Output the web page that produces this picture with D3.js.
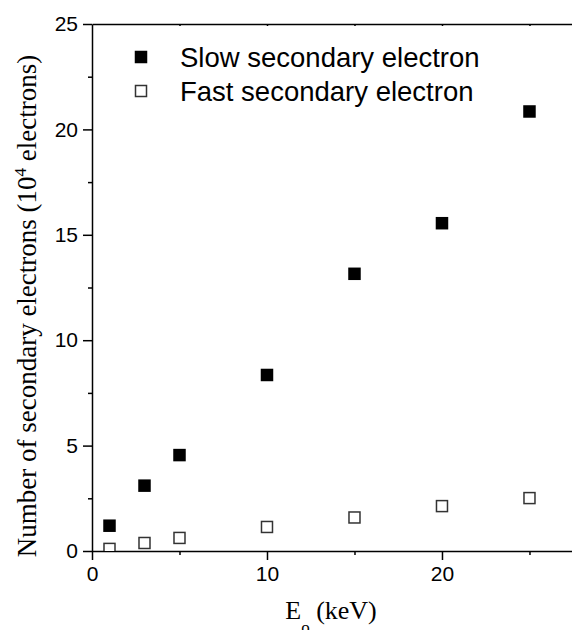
<!DOCTYPE html>
<html>
<head>
<meta charset="utf-8">
<script src="https://cdn.jsdelivr.net/npm/d3@7"></script>
<style>
  body { margin: 0; background: #fff; }
  .tick text { font-family: "Liberation Sans", Arial, sans-serif; font-size: 21px; fill: #000; }
  .axis path, .axis line { stroke: #000; stroke-width: 1.5px; }
</style>
</head>
<body>
<script>
/** Data */
const energies = [1, 3, 5, 10, 15, 20, 25];
const slowValues = [1.2, 3.1, 4.55, 8.35, 13.15, 15.55, 20.85];
const fastValues = [0.1, 0.38, 0.62, 1.14, 1.59, 2.13, 2.51];
const xMajorTicks = [0, 10, 20];
const xMinorTicks = [5, 15, 25];
const yMajorTicks = [0, 5, 10, 15, 20, 25];
const yMinorTicks = [2.5, 7.5, 12.5, 17.5, 22.5];
const seriesNames = ["Slow secondary electron", "Fast secondary electron"];

const width = 572;
const height = 630;
const plotLeft = 92, plotTop = 24, plotBottom = 551;

var svg = d3.select("body").append("svg")
    .attr("width", width)
    .attr("height", height);

var x_scale = d3.scaleLinear().domain([0, 27.43]).range([plotLeft, width]);
var y_scale = d3.scaleLinear().domain([0, 25]).range([plotBottom, plotTop]);

svg.append("defs").append("clipPath").attr("id", "plot")
    .append("rect")
    .attr("x", plotLeft).attr("y", plotTop)
    .attr("width", width - plotLeft).attr("height", plotBottom - plotTop);

// minor ticks first, then the main axes on top
svg.append("g").attr("class", "axis")
    .attr("transform", "translate(0," + plotBottom + ")")
    .call(d3.axisBottom(x_scale).tickValues(xMinorTicks).tickSize(4).tickFormat(""))
    .select(".domain").remove();
svg.append("g").attr("class", "axis")
    .attr("transform", "translate(0," + plotBottom + ")")
    .call(d3.axisBottom(x_scale).tickValues(xMajorTicks).tickSize(9).tickSizeOuter(0).tickPadding(6));

svg.append("g").attr("class", "axis")
    .attr("transform", "translate(" + plotLeft + ",0)")
    .call(d3.axisLeft(y_scale).tickValues(yMinorTicks).tickSize(4).tickFormat(""))
    .select(".domain").remove();
svg.append("g").attr("class", "axis")
    .attr("transform", "translate(" + plotLeft + ",0)")
    .call(d3.axisLeft(y_scale).tickValues(yMajorTicks).tickSize(9).tickSizeOuter(0).tickPadding(5));

// top frame line with tiny inner ticks
svg.append("g").attr("class", "axis")
    .attr("transform", "translate(0," + plotTop + ")")
    .call(d3.axisTop(x_scale).tickValues([5, 10, 15, 20, 25]).tickSize(-2).tickSizeOuter(0).tickFormat(""));

var marks = svg.append("g").attr("clip-path", "url(#plot)");
var size = 12.5;

marks.selectAll("rect.slow")
    .data(energies)
    .enter()
    .append("rect")
    .attr("class", "slow")
    .attr("x", (d) => x_scale(d) - size / 2)
    .attr("y", (d, i) => y_scale(slowValues[i]) - size / 2)
    .attr("width", size)
    .attr("height", size)
    .attr("fill", "#000");

marks.selectAll("rect.fast")
    .data(energies)
    .enter()
    .append("rect")
    .attr("class", "fast")
    .attr("x", (d) => x_scale(d) - size / 2 + 0.75)
    .attr("y", (d, i) => y_scale(fastValues[i]) - size / 2 + 0.75)
    .attr("width", size - 1.5)
    .attr("height", size - 1.5)
    .attr("fill", "#fff")
    .attr("stroke", "#333")
    .attr("stroke-width", 1.5);

// legend
var legend = svg.append("g");
seriesNames.forEach((name, i) => {
    var cy = 57 + 34 * i;
    legend.append("rect")
        .attr("x", 141 - size / 2 + (i ? 0.75 : 0))
        .attr("y", cy - size / 2 + (i ? 0.75 : 0))
        .attr("width", i ? size - 1.5 : size)
        .attr("height", i ? size - 1.5 : size)
        .attr("fill", i ? "#fff" : "#000")
        .attr("stroke", i ? "#333" : "none")
        .attr("stroke-width", 1.5);
    legend.append("text")
        .attr("x", 180)
        .attr("y", cy + 9.5)
        .style("font-family", "'Liberation Sans', Arial, sans-serif")
        .style("font-size", "27.5px")
        .text(name);
});

// axis titles
var xt = svg.append("text")
    .attr("x", 331)
    .attr("y", 619)
    .attr("text-anchor", "middle")
    .style("font-family", "'Liberation Serif', 'Times New Roman', serif")
    .style("font-size", "26px");
xt.append("tspan").text("E");
xt.append("tspan").attr("dy", 14).style("font-size", "17px").text("o");
xt.append("tspan").attr("dy", -14).text(" (keV)");

var yt = svg.append("text")
    .attr("transform", "translate(36,306) rotate(-90)")
    .attr("text-anchor", "middle")
    .style("font-family", "'Liberation Serif', 'Times New Roman', serif")
    .style("font-size", "27px");
yt.append("tspan").text("Number of secondary electrons (10");
yt.append("tspan").attr("dy", -10).style("font-size", "17px").text("4");
yt.append("tspan").attr("dy", 10).text(" electrons)");
</script>
</body>
</html>
